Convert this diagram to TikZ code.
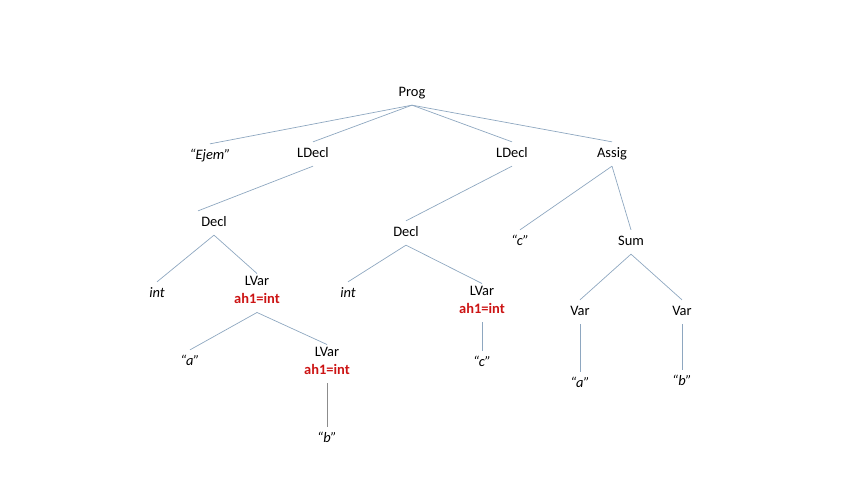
\documentclass[tikz,border=0pt]{standalone}
\usepackage{fontspec}
\setmainfont{Carlito}
\usepackage{xcolor}
\definecolor{linkblue}{RGB}{142,167,192}
\definecolor{linkgray}{RGB}{140,140,140}
\definecolor{ahred}{RGB}{204,20,20}
\newcommand{\ahint}{\\\strut\textcolor{ahred}{\bfseries ah1=int}}
\tikzset{
  lbl/.style ={font=\fontsize{14.5}{18}\selectfont,align=center,inner sep=3pt,
               execute at begin node=\strut},
  lit/.style ={lbl,font=\fontsize{14.5}{18}\selectfont\itshape},
  lnk/.style ={draw=linkblue,line width=0.7pt},
  lnkg/.style={draw=linkgray,line width=0.7pt},
}

\begin{document}
\begin{tikzpicture}[x=1bp,y=-1bp]
  \useasboundingbox (0,0) rectangle (848,477);
  \node[lbl] (prog)   at (412,93)  {Prog};
  \node[lit] (ejem)   at (210,156) {``Ejem''};
  \node[lbl] (ldeclA) at (313,154) {LDecl};
  \node[lbl] (ldeclB) at (512,154) {LDecl};
  \node[lbl] (assig)  at (612,154) {Assig};
  \node[lbl] (declA)  at (214,223) {Decl};
  \node[lbl] (declB)  at (406,233) {Decl};
  \node[lit] (intA)   at (157,294) {int};
  \node[lbl] (lvarA)  at (257,293) {LVar\ahint};
  \node[lit] (intB)   at (348,294) {int};
  \node[lbl] (lvarB)  at (482,303) {LVar\ahint};
  \node[lit] (cA)     at (520,242) {``c''};
  \node[lbl] (sum)    at (631,242) {Sum};
  \node[lit] (aA)     at (190,362) {``a''};
  \node[lbl] (lvarC)  at (327,364) {LVar\ahint};
  \node[lit] (cB)     at (482,363) {``c''};
  \node[lbl] (varA)   at (580,312) {Var};
  \node[lbl] (varB)   at (682,312) {Var};
  \node[lit] (bA)     at (327,439) {``b''};
  \node[lit] (aB)     at (580,384) {``a''};
  \node[lit] (bB)     at (682,382) {``b''};

  \foreach \c in {ejem,ldeclA,ldeclB,assig}
    \draw[lnk] (prog.south) -- (\c.north);
  \draw[lnk] (ldeclA.south) -- (declA.north west);
  \draw[lnk] (ldeclB.south) -- (declB.north);
  \draw[lnk] (declA.south) -- (intA.north);
  \draw[lnk] (declA.south) -- (lvarA.north);
  \draw[lnk] (declB.south) -- (intB.north);
  \draw[lnk] (declB.south) -- (lvarB.north);
  \draw[lnk] (lvarA.south) -- (aA.north);
  \draw[lnk] (lvarA.south) -- (lvarC.north);
  \draw[lnkg] (lvarC.south) -- (bA.north);
  \draw[lnk] (lvarB.south) -- (cB.north);
  \draw[lnk] (assig.south) -- (cA.north);
  \draw[lnk] (assig.south) -- (sum.north);
  \draw[lnk] (sum.south) -- (varA.north);
  \draw[lnk] (sum.south) -- (varB.north);
  \draw[lnk] (varA.south) -- (aB.north);
  \draw[lnk] (varB.south) -- (bB.north);
\end{tikzpicture}
\end{document}
